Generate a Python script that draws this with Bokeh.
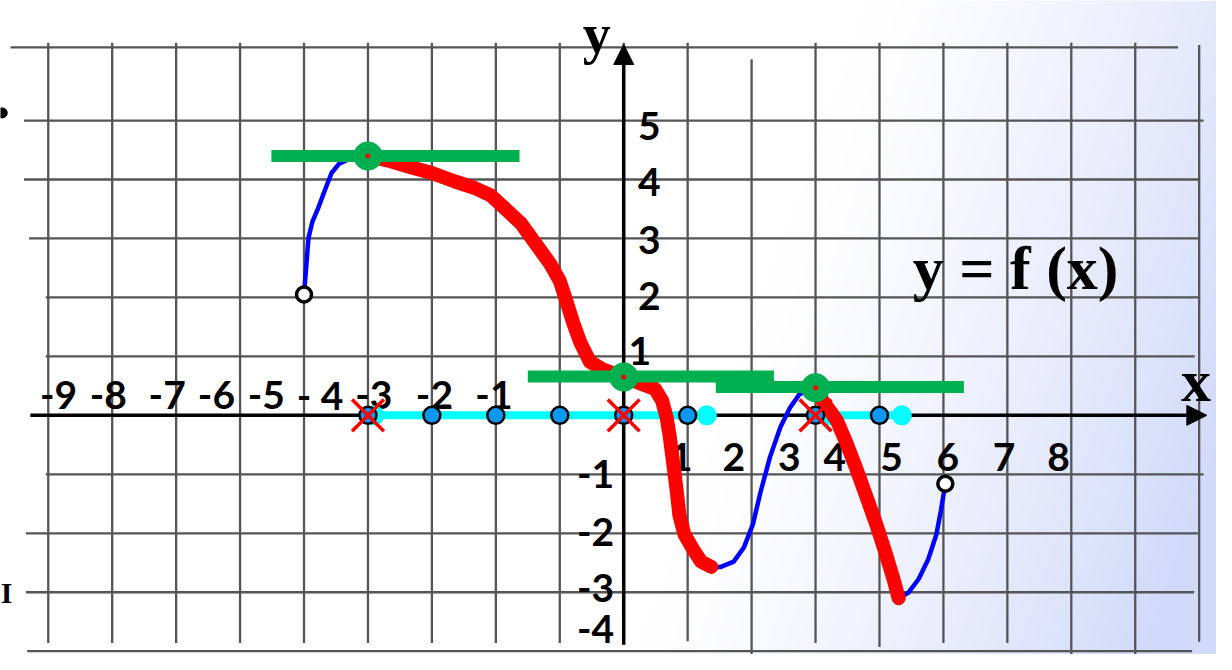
import numpy as np
from bokeh.plotting import figure
from bokeh.models import Range1d, Arrow, NormalHead
from bokeh.core.properties import value
from bokeh.embed import file_html
from bokeh.resources import INLINE

# ---------------- data (grid units: one grid cell = 1) ----------------
# graph of y = f(x), split into pieces (blue = increasing, red = decreasing)
blue1_x = [-5.0, -4.93, -4.87, -4.78, -4.69, -4.57, -4.45, -4.26, -4.0]
blue1_y = [2.05, 3.01, 3.28, 3.51, 3.77, 4.11, 4.27, 4.36, 4.40]
red1_x = [-4.0, -3.68, -3.37, -3.00, -2.65, -2.34, -2.08, -1.88, -1.61, -1.37, -1.15,
          -1.00, -0.90, -0.79, -0.68, -0.53, -0.33, -0.13, 0.0, 0.29, 0.49, 0.60,
          0.67, 0.72, 0.78, 0.83, 0.87, 0.95, 1.09, 1.21, 1.37]
red1_y = [4.40, 4.32, 4.22, 4.11, 3.97, 3.86, 3.73, 3.53, 3.26, 2.90, 2.57,
          2.28, 1.95, 1.57, 1.24, 0.91, 0.78, 0.70, 0.65, 0.53, 0.45, 0.25,
          -0.03, -0.36, -0.86, -1.29, -1.69, -2.02, -2.28, -2.48, -2.57]
blue2_x = [1.37, 1.52, 1.72, 1.88, 2.02, 2.14, 2.29, 2.45, 2.60, 2.75, 2.91, 3.0]
blue2_y = [-2.57, -2.57, -2.48, -2.24, -1.85, -1.30, -0.70, -0.20, 0.13, 0.36, 0.43, 0.47]
red2_x = [3.0, 3.11, 3.33, 3.48, 3.64, 3.79, 3.95, 4.10, 4.22, 4.30]
red2_y = [0.47, 0.25, -0.08, -0.46, -0.91, -1.36, -1.85, -2.35, -2.78, -3.10]
blue3_x = [4.30, 4.45, 4.61, 4.76, 4.89, 4.96, 5.03]
blue3_y = [-3.10, -3.01, -2.78, -2.45, -2.02, -1.62, -1.16]

# open end points
open_x = [-5.0, 5.03]
open_y = [2.05, -1.16]

# points with horizontal tangent and their tangent lines
stat_x = [-4.0, 0.0, 3.0]
stat_y = [4.40, 0.65, 0.47]
tan_x0 = [-5.51, -1.50, 1.44]
tan_x1 = [-1.63, 2.35, 5.32]
tan_y = [4.40, 0.66, 0.48]

# marked points on the x axis
dot_x = [-4, -3, -2, -1, 0, 1, 3, 4]
cyan_x = [-3.9, 1.30, 3.22, 4.35]
cyan_seg_x0 = [-4.0, 3.22]
cyan_seg_x1 = [1.30, 4.35]
cross_x = [-4.0, 0.0, 3.0]

# tick labels (positions are the centres of the label texts)
xlab_neg = ["-9", "-8", "-7", "-6", "-5", "- 4", "-3", "-2", "-1"]
xlab_neg_x = [-8.84, -8.06, -7.14, -6.37, -5.59, -4.75, -3.91, -2.96, -2.03]
xlab_neg_y = 0.35
xlab_pos = ["1", "2", "3", "4", "5", "6", "7", "8"]
xlab_pos_x = [0.90, 1.72, 2.59, 3.30, 4.19, 5.07, 5.95, 6.80]
xlab_pos_y = -0.70
ylab_pos = ["5", "4", "3", "2", "1"]
ylab_pos_x = [0.40, 0.40, 0.40, 0.40, 0.25]
ylab_pos_y = [4.91, 3.95, 2.98, 2.03, 1.09]
ylab_neg = ["-1", "-2", "-3", "-4"]
ylab_neg_x = -0.44
ylab_neg_y = [-1.00, -1.97, -2.93, -3.62]

# grid lines (hand drawn, uneven ends)
vgrid_x = list(range(-9, 10))
vgrid_top = [6.32, 6.32, 6.32, 6.32, 6.32, 6.32, 6.32, 6.32, 6.32, 6.32,
             6.32, 6.04, 6.32, 6.32, 6.32, 6.32, 6.32, 6.32, 6.28]
vgrid_bot = [-3.86, -3.86, -3.86, -3.86, -3.86, -3.86, -3.86, -3.86, -3.86, -3.86,
             -3.83, -4.2, -3.86, -3.93, -3.86, -3.86, -4.2, -4.2, -3.84]
hgrid_y = [6.24, 5, 4, 3, 2, 1, -1, -2, -3, -4]
hgrid_x0 = [-9.59, -9.38, -9.38, -9.30, -9.04, -9.04, -9.04, -9.35, -9.35, -9.33]
hgrid_x1 = [8.67, 9.07, 9.0, 9.0, 9.0, 8.93, 9.07, 8.98, 8.92, 8.89]

# axes (start and end of each arrow)
xaxis_x = [-9.28, 9.12]
yaxis_y = [-3.89, 6.29]

X0, X1 = -9.747, 9.271
Y0, Y1 = -4.056, 7.036
W, H = 1216, 654

p = figure(width=W, height=H, x_range=Range1d(X0, X1), y_range=Range1d(Y0, Y1),
           output_backend="svg", toolbar_location=None, min_border=0,
           x_axis_type=None, y_axis_type=None)
p.grid.visible = False
p.outline_line_color = None
p.background_fill_color = "white"
p.border_fill_color = "white"

# background gradient (white -> lavender toward the right edge)
xs = np.linspace(0, 1232, W)
ys = np.linspace(670, 0, H)  # row 0 = bottom
XX, YY = np.meshgrid(xs, ys)
t = np.clip((XX + 0.35 * YY - 880) / 520.0, 0, 1) ** 1.3
r = (255 * (1 - t) + 210 * t).astype(np.uint32)
g = (255 * (1 - t) + 218 * t).astype(np.uint32)
b = (255 * (1 - t) + 250 * t).astype(np.uint32)
img = (255 << 24) | (b << 16) | (g << 8) | r
p.image_rgba(image=[img.astype(np.uint32)], x=X0, y=Y0, dw=X1 - X0, dh=Y1 - Y0, level="image")

GRID = "#555555"
p.segment(x0=vgrid_x, y0=vgrid_bot, x1=vgrid_x, y1=vgrid_top, line_color=GRID,
          line_width=2.3, level="image")
p.segment(x0=hgrid_x0, y0=hgrid_y, x1=hgrid_x1, y1=hgrid_y, line_color=GRID,
          line_width=2.3, level="image")

# axes with arrows (beneath the glyphs)
p.add_layout(Arrow(end=NormalHead(size=20, fill_color="black", line_color="black"),
                   x_start=xaxis_x[0], y_start=0, x_end=xaxis_x[1], y_end=0,
                   line_color="black", line_width=3.5, level="underlay"))
p.add_layout(Arrow(end=NormalHead(size=20, fill_color="black", line_color="black"),
                   x_start=0, y_start=yaxis_y[0], x_end=0, y_end=yaxis_y[1],
                   line_color="black", line_width=3.5, level="underlay"))

SANS = value("Lato")
SERIF = value("Liberation Serif")

lab = dict(text_font=SANS, text_font_style="bold", text_font_size="39px",
           text_align="center", text_baseline="middle", text_color="black")
# tick labels
p.text(x=xlab_neg_x, y=[xlab_neg_y] * len(xlab_neg), text=xlab_neg, **lab)
p.text(x=xlab_pos_x, y=[xlab_pos_y] * len(xlab_pos), text=xlab_pos, **lab)
p.text(x=ylab_pos_x, y=ylab_pos_y, text=ylab_pos, **lab)
p.text(x=[ylab_neg_x] * len(ylab_neg), y=ylab_neg_y, text=ylab_neg, **lab)

# axis names and formula
ser = dict(text_font=SERIF, text_font_style="bold", text_baseline="middle", text_color="black")
p.text(x=[-0.42], y=[6.47], text=["y"], text_font_size="56px", text_align="center", **ser)
p.text(x=[8.95], y=[0.58], text=["x"], text_font_size="60px", text_align="center", **ser)
p.text(x=[4.52], y=[2.50], text=["y = f (x)"], text_font_size="62px", text_align="left", **ser)
# remnants of slide text at the left edge
p.text(x=[-9.745], y=[-3.00], text=["I"], text_font_size="30px", text_align="left", **ser)
p.scatter(x=[-9.72], y=[5.13], size=10, color="black")

# cyan intervals on the x axis
p.segment(x0=cyan_seg_x0, y0=[0, 0], x1=cyan_seg_x1, y1=[0, 0],
          line_color="#00FFFF", line_width=8, line_cap="round")
p.scatter(x=cyan_x, y=[0] * len(cyan_x), size=20, fill_color="#00FFFF", line_color=None)

# graph
all_x = blue1_x + red1_x[1:] + blue2_x[1:] + red2_x[1:] + blue3_x[1:]
all_y = blue1_y + red1_y[1:] + blue2_y[1:] + red2_y[1:] + blue3_y[1:]
p.line(all_x, all_y, line_color="#0000FF", line_width=4.5, line_join="round")
p.line(red1_x, red1_y, line_color="#FF0000", line_width=14, line_join="round", line_cap="round")
p.line(red2_x, red2_y, line_color="#FF0000", line_width=14, line_join="round", line_cap="round")

# tangents
p.segment(x0=tan_x0, y0=tan_y, x1=tan_x1, y1=tan_y, line_color="#00B050", line_width=12)
p.scatter(x=stat_x, y=stat_y, size=29, fill_color="#00B050", line_color=None)
p.scatter(x=stat_x, y=stat_y, size=5, fill_color="#FF0000", line_color=None)

# points on x axis
p.scatter(x=dot_x, y=[0] * len(dot_x), size=17, fill_color="#0A98F5",
          line_color="black", line_width=2.5)
p.scatter(x=cross_x, y=[0] * len(cross_x), marker="x", size=45,
          line_color="#FF0000", line_width=3.5)

# open end points
p.scatter(x=open_x, y=open_y, size=15, fill_color="white", line_color="black", line_width=3.5)

open("out.html", "w").write(file_html(p, INLINE))
